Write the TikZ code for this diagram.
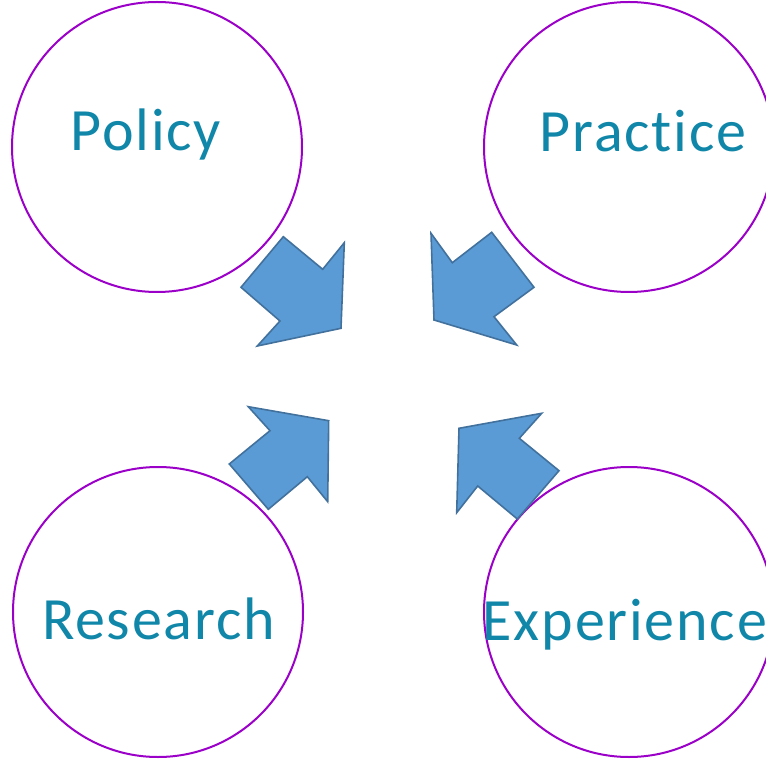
\documentclass[tikz,border=0pt]{standalone}
\usepackage{fontspec}
\setmainfont[Ligatures=NoCommon,LetterSpace=3]{Carlito}
\definecolor{ring}{HTML}{9B00C8}
\definecolor{arrfill}{HTML}{5B9BD5}
\definecolor{arrline}{HTML}{41719C}
\definecolor{lbl}{HTML}{1086A8}
\begin{document}
\begin{tikzpicture}[x=1pt,y=-1pt,
  ring/.style={circle,draw=ring,line width=2pt,minimum size=290pt,inner sep=0pt},
  lbl/.style={text=lbl,font=\fontsize{60}{66}\selectfont,inner sep=0pt,anchor=base},
  arr/.style={fill=arrfill,draw=arrline,line width=1.6pt,line join=miter}]
\useasboundingbox (0,0) rectangle (766,759);
\node[ring] (policy) at (157,147) {};
\node[ring] (practice) at (629,147) {};
\node[ring] (research) at (158,612) {};
\node[ring] (experience) at (629,612) {};
\node[lbl] (tpolicy) at (146,151) {Policy};
\node[lbl] (tpractice) at (643,152) {Practice};
\node[lbl] (tresearch) at (158.5,639) {Research};
\node[lbl] (texperience) at (625,640) {Experience};
\draw[arr] (283.3,236.7) -- (322.7,269.3) -- (344.3,242.7) -- (341,328.3) -- (257.3,346) -- (280,321) -- (241,287.3) -- cycle;
\draw[arr] (431,233.3) -- (452.3,262.7) -- (491.7,232.3) -- (534,287.3) -- (494,316.7) -- (516.7,345) -- (434,320) -- cycle;
\draw[arr] (248.3,406.7) -- (328.7,420.7) -- (327.7,501.7) -- (307.3,476.7) -- (268.3,509.3) -- (229.3,464) -- (270,430.7) -- cycle;
\draw[arr] (541.7,413.3) -- (519.3,438.3) -- (559,470.7) -- (517.3,519) -- (477.7,486) -- (456.7,512.7) -- (459,428.3) -- cycle;
\end{tikzpicture}
\end{document}
